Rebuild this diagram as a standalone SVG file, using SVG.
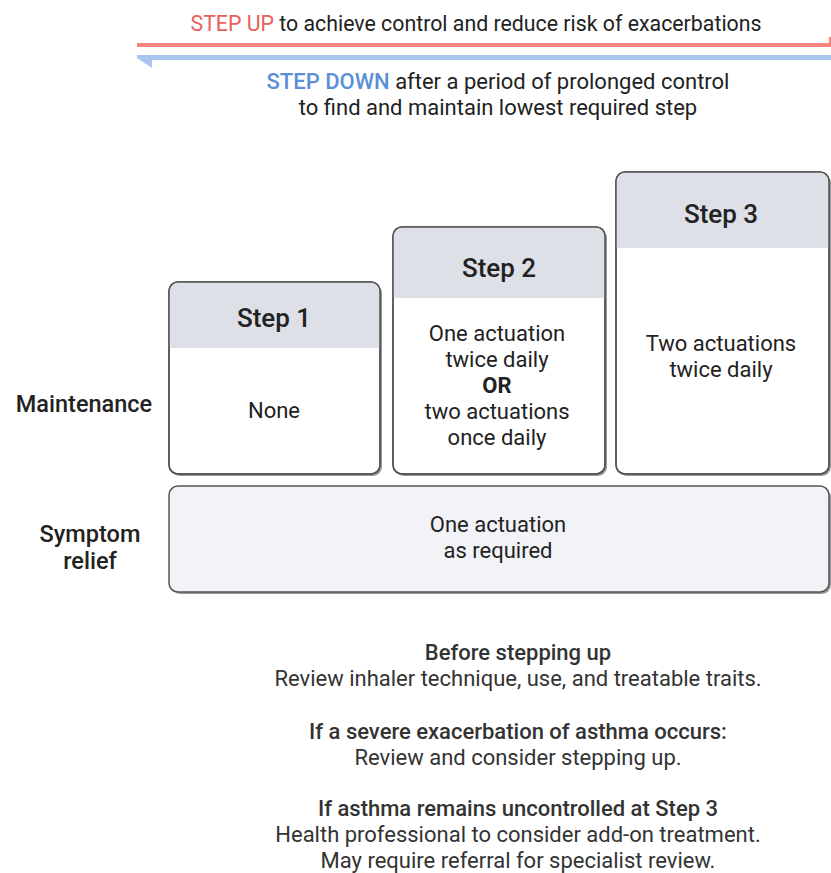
<svg xmlns="http://www.w3.org/2000/svg" width="831" height="873" viewBox="0 0 831 873">
<defs>
<style>
text{font-family:Roboto,"Liberation Sans",sans-serif;fill:#222;text-anchor:middle}
.t{font-size:22px}
.h{font-size:26px;font-weight:500}
.lab{font-size:23.5px;font-weight:500}
.b{font-size:22px;fill:#333}
.bm{font-size:22px;fill:#333;font-weight:500}
.shadow{fill:#9a9a9a}
.box{fill:#fff;stroke:#555;stroke-width:1.5}
.hdr{fill:#dde0e7}
</style>
<clipPath id="c1"><rect x="169" y="282" width="211" height="192" rx="9"/></clipPath>
<clipPath id="c2"><rect x="393" y="227" width="212" height="247" rx="9"/></clipPath>
<clipPath id="c3"><rect x="616" y="172" width="213" height="302" rx="9"/></clipPath>
</defs>
<rect width="831" height="873" fill="#fff"/>
<g id="connectors">
<path d="M137 43 H829 V37 L831 37 V47 H137 Z" fill="#f4857e"/>
<path d="M831 55 V60 H152 L152 68 L137 58 V55 Z" fill="#a9c6f1"/>
</g>
<g id="header-text">
<text class="t" x="476" y="31" textLength="571" lengthAdjust="spacingAndGlyphs"><tspan style="fill:#e8605a">STEP UP</tspan> to achieve control and reduce risk of exacerbations</text>
<text class="t" x="498" y="89"><tspan style="fill:#5b8fd6;font-weight:500">STEP DOWN</tspan> after a period of prolonged control</text>
<text class="t" x="498" y="115">to find and maintain lowest required step</text>
</g>
<g id="row-labels">
<text class="lab" x="84" y="412">Maintenance</text>
<text class="lab" x="90" y="542">Symptom</text>
<text class="lab" x="90" y="569">relief</text>
</g>
<g id="step1">
<rect class="shadow" x="171" y="284" width="211" height="192" rx="9"/>
<rect class="box" x="169" y="282" width="211" height="192" rx="9"/>
<rect class="hdr" x="169" y="282" width="211" height="66" clip-path="url(#c1)"/>
<rect x="169" y="282" width="211" height="192" rx="9" fill="none" stroke="#555" stroke-width="1.5"/>
<text class="h" x="274" y="327">Step 1</text>
<text class="t" x="274" y="418">None</text>
</g>
<g id="step2">
<rect class="shadow" x="395" y="229" width="212" height="247" rx="9"/>
<rect class="box" x="393" y="227" width="212" height="247" rx="9"/>
<rect class="hdr" x="393" y="227" width="212" height="71" clip-path="url(#c2)"/>
<rect x="393" y="227" width="212" height="247" rx="9" fill="none" stroke="#555" stroke-width="1.5"/>
<text class="h" x="499" y="277">Step 2</text>
<text class="t" x="497" y="341">One actuation</text>
<text class="t" x="497" y="367">twice daily</text>
<text class="t" x="497" y="393" style="font-weight:700">OR</text>
<text class="t" x="497" y="419">two actuations</text>
<text class="t" x="497" y="445">once daily</text>
</g>
<g id="step3">
<rect class="shadow" x="618" y="174" width="213" height="302" rx="9"/>
<rect class="box" x="616" y="172" width="213" height="302" rx="9"/>
<rect class="hdr" x="616" y="172" width="213" height="76" clip-path="url(#c3)"/>
<rect x="616" y="172" width="213" height="302" rx="9" fill="none" stroke="#555" stroke-width="1.5"/>
<text class="h" x="721" y="223">Step 3</text>
<text class="t" x="721" y="351">Two actuations</text>
<text class="t" x="721" y="377">twice daily</text>
</g>
<g id="symptom">
<rect class="shadow" x="171" y="488" width="660" height="106" rx="9"/>
<rect x="169" y="486" width="660" height="106" rx="9" fill="#f2f3f7" stroke="#555" stroke-width="1.5"/>
<text class="t" x="498" y="532">One actuation</text>
<text class="t" x="498" y="558">as required</text>
</g>
<g id="notes">
<text class="bm" x="518" y="660">Before stepping up</text>
<text class="b" x="518" y="686">Review inhaler technique, use, and treatable traits.</text>
<text class="bm" x="518" y="739">If a severe exacerbation of asthma occurs:</text>
<text class="b" x="518" y="765">Review and consider stepping up.</text>
<text class="bm" x="518" y="816">If asthma remains uncontrolled at Step 3</text>
<text class="b" x="518" y="842">Health professional to consider add-on treatment.</text>
<text class="b" x="518" y="868">May require referral for specialist review.</text>
</g>
</svg>
